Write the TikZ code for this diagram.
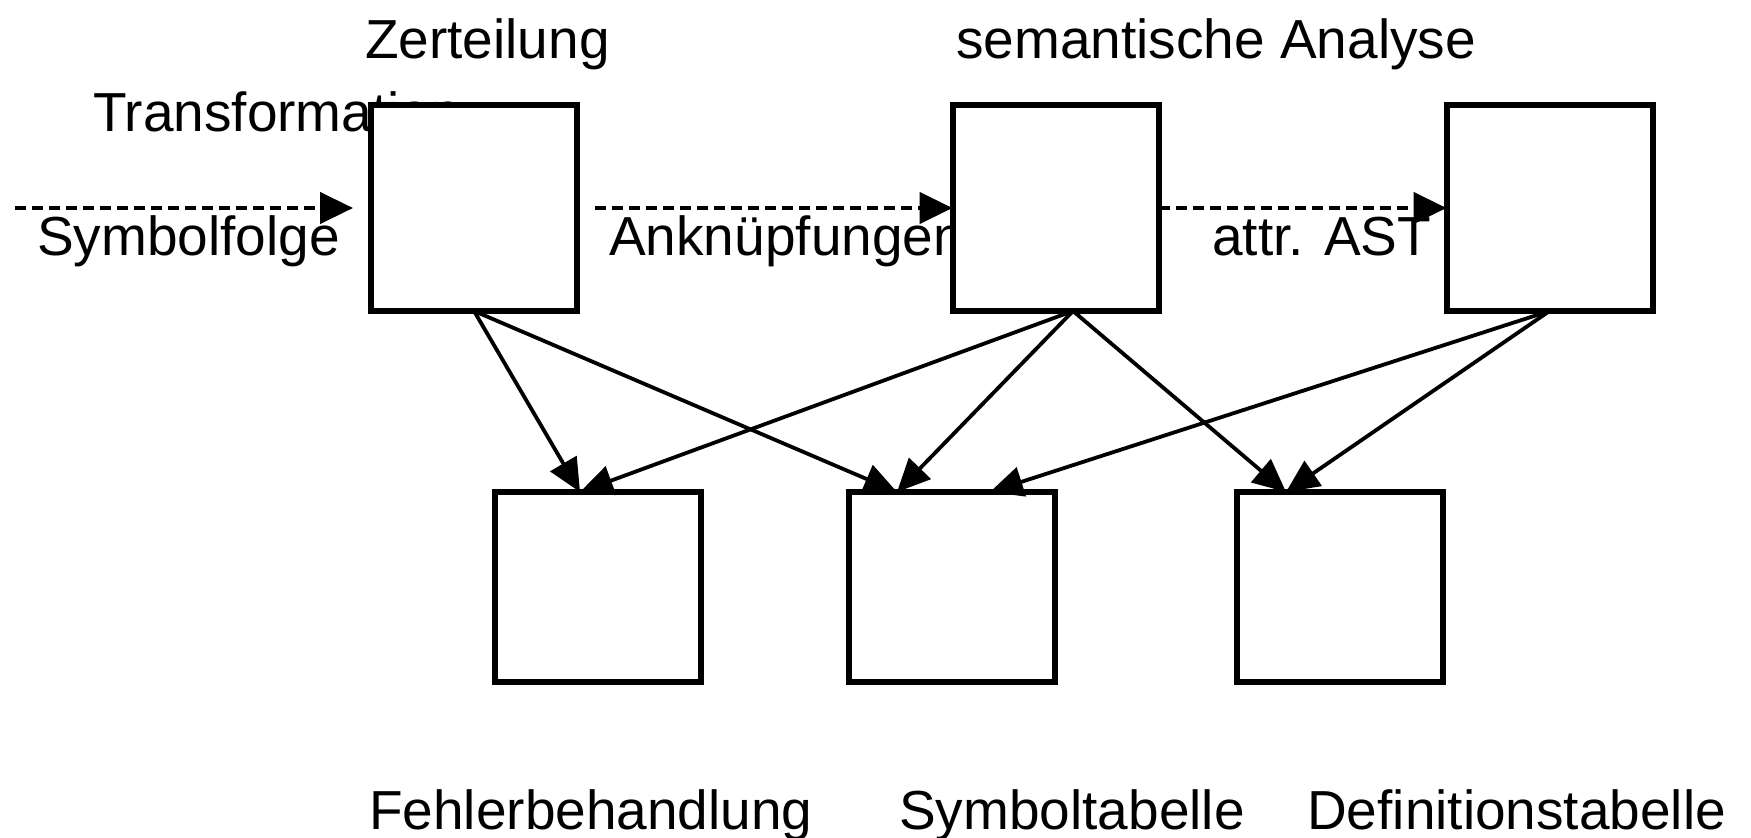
\documentclass[tikz,border=0pt]{standalone}
\usepackage{fontspec}
\setmainfont{Liberation Sans}
\usetikzlibrary{arrows.meta}

\begin{document}
\begin{tikzpicture}[x=1pt,y=-1pt,
    box/.style={draw, fill=white, line width=6pt, minimum width=206pt,
      inner sep=0pt, outer sep=0pt},
    lbl/.style={anchor=base west, inner sep=0pt,
      font=\fontsize{55}{60}\selectfont},
    flow/.style={line width=4.5pt, dash pattern=on 11pt off 6pt,
      -{Triangle[length=33pt,width=31pt]}},
    uses/.style={line width=3.8pt, -{Triangle[length=33pt,width=30pt]}}]
  \useasboundingbox (0,0) rectangle (1751,838);

  % labels first, the boxes lie over them
  \node [lbl] (lzer) at (365,58) {Zerteilung};
  \node [lbl] (lsem) at (956,58) {semantische Analyse};
  \node [lbl] (ltrans) at (93,131) {Transformation};
  \node [lbl] (lsym) at (37,255) {Symbolfolge};
  \node [lbl] (lank) at (609,255) {Anknüpfungen};
  \node [lbl] (last) at (1212,255) {attr. AST};
  \node [lbl] (lfehler) at (369,829) {Fehlerbehandlung};
  \node [lbl] (lsymtab) at (899,829) {Symboltabelle};
  \node [lbl] (ldeftab) at (1307,829) {Definitionstabelle};

  % upper row
  \node [box, minimum height=206pt] (zer) at (474,208) {};
  \node [box, minimum height=206pt] (sem) at (1055.5,208) {};
  \node [box, minimum height=206pt] (trans) at (1549.5,208) {};
  % lower row
  \node [box, minimum height=190pt] (fehler) at (597.5,587) {};
  \node [box, minimum height=190pt] (symtab) at (951.5,587) {};
  \node [box, minimum height=190pt] (deftab) at (1339.5,587) {};

  % dashed main flow
  \coordinate (ein) at (15,208);
  \draw [flow] (ein) -- ([xshift=-18pt]zer.west);
  \draw [flow] ([xshift=18pt]zer.east) -- (sem.west);
  \draw [flow] (sem.east) -- (trans.west);

  % access to the tables
  \draw [uses] (zer.south) -- ([xshift=-17.5pt]fehler.north);
  \draw [uses] (zer.south) -- ([xshift=-54.5pt]symtab.north);
  \draw [uses] ([xshift=17.5pt]sem.south) -- ([xshift=-17.5pt]fehler.north);
  \draw [uses] ([xshift=17.5pt]sem.south) -- ([xshift=-54.5pt]symtab.north);
  \draw [uses] ([xshift=17.5pt]sem.south) -- ([xshift=-53.5pt]deftab.north);
  \draw [uses] (trans.south) -- ([xshift=38.5pt]symtab.north);
  \draw [uses] (trans.south) -- ([xshift=-53.5pt]deftab.north);

\end{tikzpicture}
\end{document}
